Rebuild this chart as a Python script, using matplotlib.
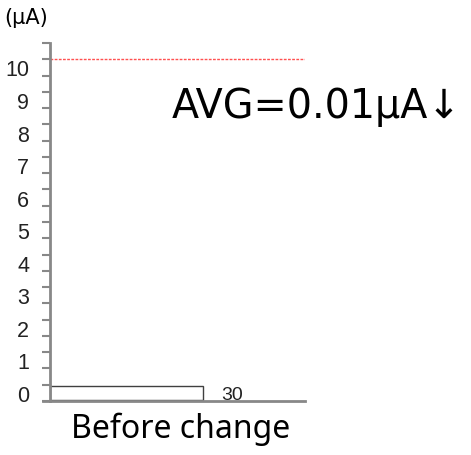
import matplotlib
matplotlib.use("Agg")
import matplotlib.pyplot as plt

# current bins (uA) and how many samples fell in each one
bins = [0, 0.5, 1, 1.5, 2, 2.5, 3, 3.5, 4, 4.5, 5,
        5.5, 6, 6.5, 7, 7.5, 8, 8.5, 9, 9.5, 10, 10.5]
counts = [30, 0, 0, 0, 0, 0, 0, 0, 0, 0, 0,
          0, 0, 0, 0, 0, 0, 0, 0, 0, 0, 0]
tick_labels = ["0", "1", "2", "3", "4", "5", "6", "7", "8", "9", "10"]
limit = 10.25
avg_text = "AVG=0.01μA↓"
unit_text = "(μA)"
group_label = "Before change"

narrow = ["Liberation Sans", "DejaVu Sans"]

fig = plt.figure(figsize=(4.71, 4.56), dpi=100)
ax = fig.add_axes([0.106, 0.1184, 0.5416, 0.7851])

ys = [b for b, c in zip(bins, counts) if c > 0]
ws = [c for c in counts if c > 0]
ax.barh(ys, ws, height=0.43, color="white", edgecolor="#404040", linewidth=1)
for y, w in zip(ys, ws):
    ax.annotate(str(w), (w, y), xytext=(13, -1), textcoords="offset points",
                ha="left", va="center", fontsize=14, family=narrow, color="#222222")

ax.axhline(limit, color="#ff5050", linewidth=1, linestyle=(0, (2, 1)))

ax.set_xlim(0, 50)
ax.set_ylim(-0.25, 10.75)
ax.set_xticks([])
ax.set_yticks(range(len(tick_labels)))
ax.set_yticklabels(tick_labels, family=narrow, fontsize=15.5, color="#222222")
ax.set_yticks([b + 0.25 for b in bins] + [-0.25], minor=True)
ax.tick_params(axis="y", which="major", length=0, pad=15)
ax.tick_params(axis="y", which="minor", length=6, width=1.5, color="#888888")

for s in ["top", "right"]:
    ax.spines[s].set_visible(False)
for s in ["left", "bottom"]:
    ax.spines[s].set_color("#888888")
    ax.spines[s].set_linewidth(2)
ax.spines["bottom"].set_bounds(-1.4, 50)

fig.text(0.008, 0.96, unit_text, fontsize=15, ha="left", va="center")
fig.text(0.365, 0.741, avg_text, fontsize=28.5, ha="left", va="baseline")
fig.text(0.384, 0.0395, group_label, fontsize=23, family="Noto Sans",
         ha="center", va="baseline")

fig.savefig("out.png", dpi=100)
